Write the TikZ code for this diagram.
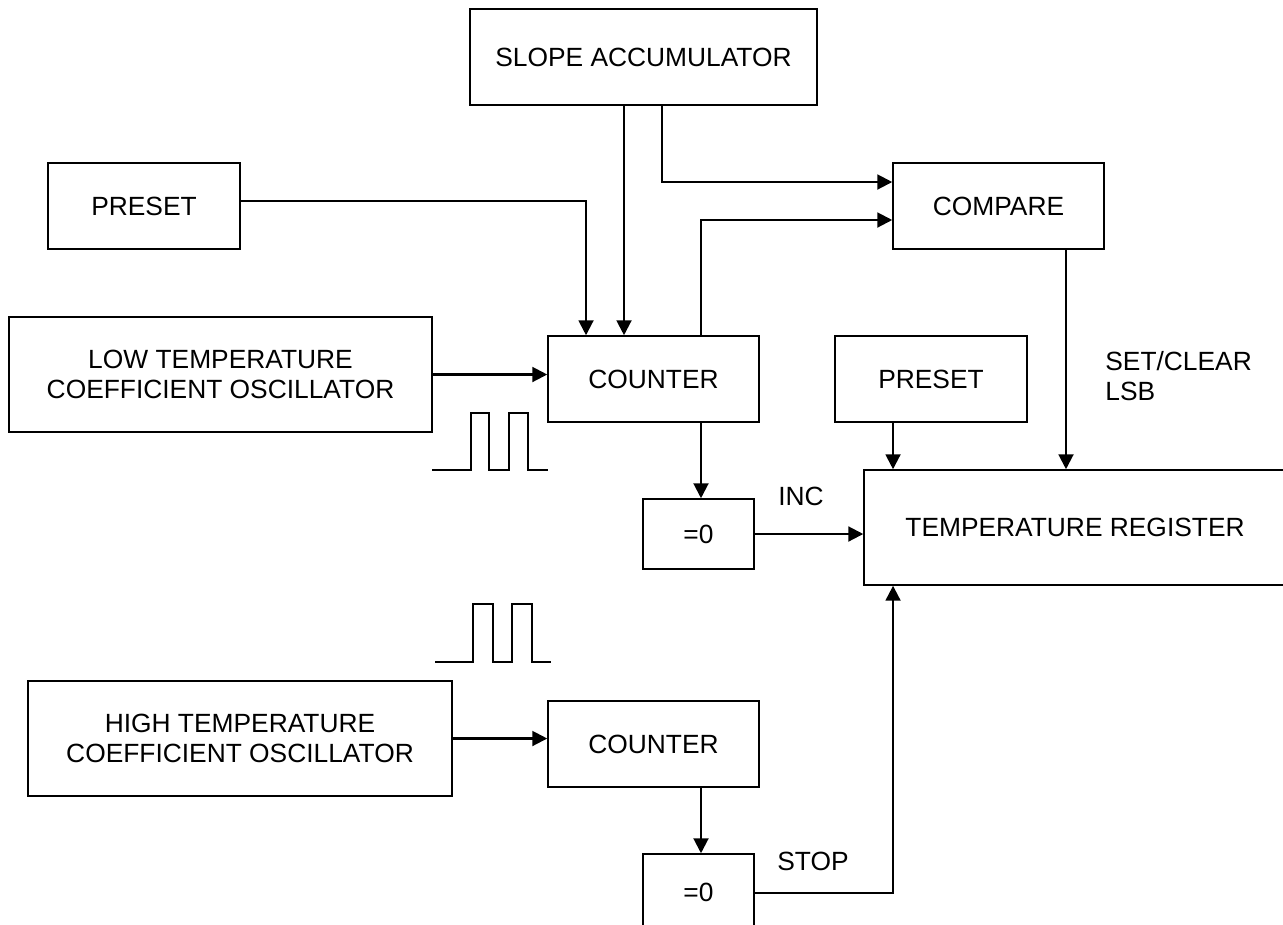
\documentclass[tikz,border=0pt]{standalone}
\usepackage{fontspec}
\setmainfont{Liberation Sans}
\usetikzlibrary{arrows.meta}

\begin{document}
\begin{tikzpicture}[x=0.02cm, y=-0.02cm,
    blk/.style={draw, line width=0.9pt, inner sep=0pt, align=center, font=\fontsize{15}{17}\selectfont},
    conn/.style={line width=1.2pt, -{Triangle[length=8.5pt, width=8.5pt]}},
    lbl/.style={inner sep=0pt, align=left, font=\fontsize{15}{17}\selectfont},
    pulse/.style={line width=0.7pt}]
    \useasboundingbox (0,0) rectangle (1283,924);

        \node[blk, minimum width=6.94cm, minimum height=1.92cm] (slope) at (643.5,57) {SLOPE ACCUMULATOR};
        \node[blk, minimum width=3.84cm, minimum height=1.72cm] (presetA) at (144,206) {PRESET};
        \node[blk, minimum width=4.22cm, minimum height=1.72cm] (compare) at (998.5,206) {COMPARE};
        \node[blk, minimum width=8.46cm, minimum height=2.30cm] (lowosc) at (220.5,374.5) {LOW TEMPERATURE\\COEFFICIENT OSCILLATOR};
        \node[blk, minimum width=4.22cm, minimum height=1.72cm] (counterA) at (653.5,379) {COUNTER};
        \node[blk, minimum width=3.84cm, minimum height=1.72cm] (presetB) at (931,379) {PRESET};
        \node[blk, minimum width=8.44cm, minimum height=2.30cm] (regist) at (1075,527.5) {TEMPERATURE REGISTER};
        \node[blk, minimum width=2.22cm, minimum height=1.40cm] (zeroA) at (698.5,534) {=0};
        \node[blk, minimum width=8.48cm, minimum height=2.30cm] (highosc) at (240,738.5) {HIGH TEMPERATURE\\COEFFICIENT OSCILLATOR};
        \node[blk, minimum width=4.22cm, minimum height=1.72cm] (counterB) at (653.5,744) {COUNTER};
        \node[blk, minimum width=2.22cm, minimum height=1.52cm] (zeroB) at (698.5,892) {=0};

        \node[lbl] (inc) at (801,496) {INC};
        \node[lbl] (stop) at (813,861) {STOP};
        \node[lbl, anchor=west] (setclr) at (1105,376) {SET/CLEAR\\LSB};

        % inputs of the first counter
        \draw[conn] ([yshift=0.1cm]presetA.east) -| ([xshift=-1.35cm]counterA.north);
        \draw[conn] ([xshift=-0.39cm]slope.south) -- ([xshift=-0.39cm]slope.south |- counterA.north);
        \draw[conn] (lowosc.east) -- (lowosc.east -| counterA.west);

        % compare
        \draw[conn] ([xshift=0.37cm]slope.south) |- ([yshift=0.48cm]compare.west);
        \draw[conn] ([xshift=0.95cm]counterA.north) |- ([yshift=-0.28cm]compare.west);
        \draw[conn] ([xshift=1.35cm]compare.south) -- ([xshift=1.35cm]compare.south |- regist.north);

        \draw[conn] ([xshift=0.95cm]counterA.south) -- ([xshift=0.95cm]counterA.south |- zeroA.north);
        \draw[conn] (zeroA.east) -- (zeroA.east -| regist.west);
        \draw[conn] ([xshift=-0.76cm]presetB.south) -- ([xshift=-0.76cm]presetB.south |- regist.north);

        % second counter
        \draw[conn] (highosc.east) -- (highosc.east -| counterB.west);
        \draw[conn] ([xshift=0.95cm]counterB.south) -- ([xshift=0.95cm]counterB.south |- zeroB.north);
        \draw[conn] ([yshift=-0.02cm]zeroB.east) -| ([xshift=-3.64cm]regist.south);

        \draw[pulse] (432,470) -- (471,470) -- (471,413) -- (489,413) -- (489,470) -- (509,470) -- (509,413) -- (528,413) -- (528,470) -- (548,470);
        \draw[pulse] (435,662) -- (473,662) -- (473,604) -- (493,604) -- (493,662) -- (512,662) -- (512,604) -- (532,604) -- (532,662) -- (551,662);

    \end{tikzpicture}
\end{document}
